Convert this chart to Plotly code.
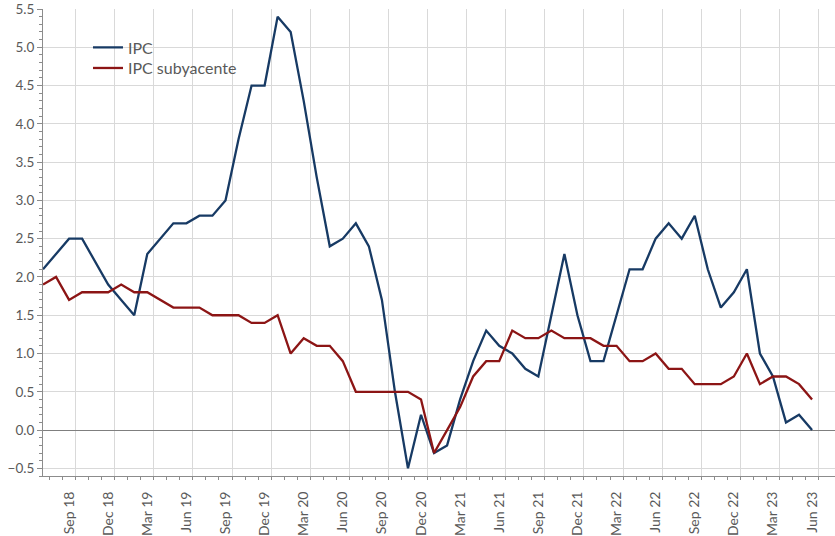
import plotly.graph_objects as go

months = ["Jul 18", "Aug 18", "Sep 18", "Oct 18", "Nov 18", "Dec 18",
          "Jan 19", "Feb 19", "Mar 19", "Apr 19", "May 19", "Jun 19",
          "Jul 19", "Aug 19", "Sep 19", "Oct 19", "Nov 19", "Dec 19",
          "Jan 20", "Feb 20", "Mar 20", "Apr 20", "May 20", "Jun 20",
          "Jul 20", "Aug 20", "Sep 20", "Oct 20", "Nov 20", "Dec 20",
          "Jan 21", "Feb 21", "Mar 21", "Apr 21", "May 21", "Jun 21",
          "Jul 21", "Aug 21", "Sep 21", "Oct 21", "Nov 21", "Dec 21",
          "Jan 22", "Feb 22", "Mar 22", "Apr 22", "May 22", "Jun 22",
          "Jul 22", "Aug 22", "Sep 22", "Oct 22", "Nov 22", "Dec 22",
          "Jan 23", "Feb 23", "Mar 23", "Apr 23", "May 23", "Jun 23"]

ipc = [2.1, 2.3, 2.5, 2.5, 2.2, 1.9,
       1.7, 1.5, 2.3, 2.5, 2.7, 2.7, 2.8, 2.8, 3.0, 3.8, 4.5, 4.5,
       5.4, 5.2, 4.3, 3.3, 2.4, 2.5, 2.7, 2.4, 1.7, 0.5, -0.5, 0.2,
       -0.3, -0.2, 0.4, 0.9, 1.3, 1.1, 1.0, 0.8, 0.7, 1.5, 2.3, 1.5,
       0.9, 0.9, 1.5, 2.1, 2.1, 2.5, 2.7, 2.5, 2.8, 2.1, 1.6, 1.8,
       2.1, 1.0, 0.7, 0.1, 0.2, 0.0]

ipc_sub = [1.9, 2.0, 1.7, 1.8, 1.8, 1.8,
           1.9, 1.8, 1.8, 1.7, 1.6, 1.6, 1.6, 1.5, 1.5, 1.5, 1.4, 1.4,
           1.5, 1.0, 1.2, 1.1, 1.1, 0.9, 0.5, 0.5, 0.5, 0.5, 0.5, 0.4,
           -0.3, 0.0, 0.3, 0.7, 0.9, 0.9, 1.3, 1.2, 1.2, 1.3, 1.2, 1.2,
           1.2, 1.1, 1.1, 0.9, 0.9, 1.0, 0.8, 0.8, 0.6, 0.6, 0.6, 0.7,
           1.0, 0.6, 0.7, 0.7, 0.6, 0.4]

label_months = ["Sep 18", "Dec 18", "Mar 19", "Jun 19", "Sep 19", "Dec 19",
                "Mar 20", "Jun 20", "Sep 20", "Dec 20", "Mar 21", "Jun 21",
                "Sep 21", "Dec 21", "Mar 22", "Jun 22", "Sep 22", "Dec 22",
                "Mar 23", "Jun 23"]

idx = list(range(len(months)))
label_pos = [months.index(m) for m in label_months]
major_bounds = [p + 0.5 for p in label_pos]
minor_bounds = [i + 0.5 for i in idx]

FONT = "Lato"
TXT = "#595959"
AX = "#8c8c8c"
GRID = "#d9d9d9"
xr = [0, 60.76]

fig = go.Figure()
fig.add_trace(go.Scatter(x=idx, y=ipc, mode="lines", name="IPC",
                         line=dict(color="#173A64", width=2.3),
                         legend="legend"))
fig.add_trace(go.Scatter(x=idx, y=ipc_sub, mode="lines", name="IPC subyacente",
                         line=dict(color="#8C1515", width=2.3),
                         legend="legend2"))
# dummy trace to activate the overlay axis for boundary ticks/grid
fig.add_trace(go.Scatter(x=[None], y=[None], xaxis="x2", showlegend=False,
                         hoverinfo="skip"))

leg_common = dict(x=0.0568, xanchor="left", yanchor="middle",
                  bgcolor="rgba(0,0,0,0)", font=dict(size=16, color=TXT),
                  itemwidth=30)

fig.update_layout(
    width=835, height=536,
    margin=dict(l=43, r=0, t=9, b=60),
    plot_bgcolor="white", paper_bgcolor="white",
    font=dict(family=FONT, color=TXT),
    showlegend=True,
    legend=dict(y=0.9175, **leg_common),
    legend2=dict(y=0.8735, **leg_common),
    xaxis=dict(
        range=xr, tickmode="array", tickvals=label_pos, ticktext=label_months,
        tickangle=-90, tickfont=dict(size=14, color=TXT),
        ticks="outside", ticklen=9, tickcolor="rgba(0,0,0,0)",
        showgrid=False, zeroline=False,
        showline=True, linecolor=AX, linewidth=1,
    ),
    xaxis2=dict(
        overlaying="x", side="bottom", range=xr,
        tickmode="array", tickvals=major_bounds,
        ticktext=[""] * len(major_bounds),
        ticks="outside", ticklen=6, tickcolor=AX, tickwidth=1,
        showgrid=True, gridcolor=GRID, gridwidth=1,
        zeroline=False, showline=False,
        minor=dict(tickmode="array", tickvals=minor_bounds, ticks="outside",
                   ticklen=3, tickcolor=AX, tickwidth=1, showgrid=False),
    ),
    yaxis=dict(
        range=[-0.6, 5.5], tickmode="array",
        tickvals=[-0.5 + 0.5 * k for k in range(13)],
        tickformat=".1f", tickfont=dict(size=13.5, color=TXT),
        ticks="outside", ticklen=5, tickcolor=AX,
        showgrid=True, gridcolor=GRID, gridwidth=1,
        zeroline=True, zerolinecolor="#7f7f7f", zerolinewidth=1,
        showline=True, linecolor=AX, linewidth=1,
        minor=dict(dtick=0.1, tick0=0, ticks="outside", ticklen=3,
                   tickcolor=AX, showgrid=False),
    ),
)

fig.write_html("out.html",
               config={"displayModeBar": False},
               post_script="document.body.style.margin='0px';document.body.style.overflow='hidden';")
